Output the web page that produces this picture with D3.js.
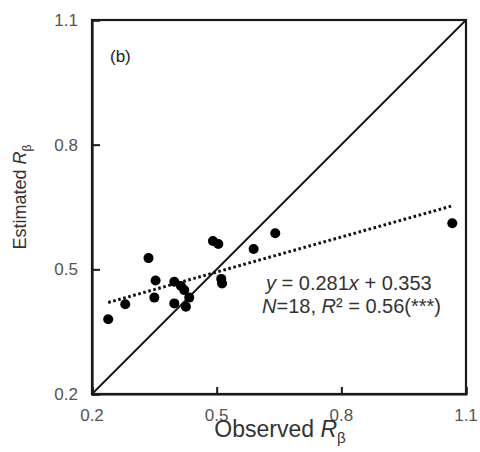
<!DOCTYPE html>
<html>
<head>
<meta charset="utf-8">
<script src="https://cdn.jsdelivr.net/npm/d3@7/dist/d3.min.js"></script>
<style>
  html, body { margin: 0; padding: 0; background: #fff; }
  svg { display: block; font-family: "Liberation Sans", Arial, sans-serif; }
</style>
</head>
<body>
<svg id="chart" width="480" height="452"></svg>
<script>
// ---- data ----
const observed  = [0.239, 0.280, 0.336, 0.353, 0.350, 0.398, 0.398, 0.414, 0.422,
                   0.434, 0.426, 0.491, 0.504, 0.511, 0.513, 0.589, 0.641, 1.067];
const estimated = [0.380, 0.416, 0.527, 0.473, 0.432, 0.470, 0.418, 0.460, 0.450,
                   0.432, 0.410, 0.568, 0.561, 0.477, 0.466, 0.549, 0.587, 0.611];
const tickValues = [0.2, 0.5, 0.8, 1.1];
const tickLabels = ["0.2", "0.5", "0.8", "1.1"];
const slope = 0.281, intercept = 0.353;
const panelLabel = "(b)";

// ---- layout ----
const svg = d3.select("#chart");
const L = 92, R = 466, T = 20, B = 394;
const x = d3.scaleLinear().domain([0.2, 1.1]).range([L, R]);
const y = d3.scaleLinear().domain([0.2, 1.1]).range([B, T]);
const axisColor = "#1a1a1a";
const labelColor = "#555";

// frame
svg.append("rect").attr("x", L).attr("y", T).attr("width", R - L).attr("height", B - T)
  .attr("fill", "none").attr("stroke", axisColor).attr("stroke-width", 2.2);

// axes with inward ticks
const xAxis = d3.axisBottom(x).tickValues(tickValues).tickSize(-7).tickFormat(() => "");
const yAxis = d3.axisLeft(y).tickValues(tickValues).tickSize(-8).tickFormat(() => "");
const gx = svg.append("g").attr("transform", `translate(0,${B})`).call(xAxis);
const gy = svg.append("g").attr("transform", `translate(${L},0)`).call(yAxis);
[gx, gy].forEach(g => {
  g.select(".domain").attr("stroke", axisColor).attr("stroke-width", 2.2);
  g.selectAll(".tick line").attr("stroke", axisColor).attr("stroke-width", 2);
});

// tick labels
svg.append("g").selectAll("text").data(tickValues).join("text")
  .attr("x", d => x(d)).attr("y", 421)
  .attr("text-anchor", "middle").attr("font-size", 17).attr("fill", labelColor)
  .text((d, i) => tickLabels[i]);
svg.append("g").selectAll("text").data(tickValues).join("text")
  .attr("x", 78).attr("y", d => y(d)).attr("dy", "0.35em")
  .attr("text-anchor", "end").attr("font-size", 17).attr("fill", labelColor)
  .text((d, i) => tickLabels[i]);

// 1:1 line
svg.append("line")
  .attr("x1", x(0.2)).attr("y1", y(0.2)).attr("x2", x(1.1)).attr("y2", y(1.1))
  .attr("stroke", axisColor).attr("stroke-width", 2);

// regression line (dotted)
const xmin = d3.min(observed), xmax = d3.max(observed);
svg.append("line")
  .attr("x1", x(xmin)).attr("y1", y(slope * xmin + intercept))
  .attr("x2", x(xmax)).attr("y2", y(slope * xmax + intercept))
  .attr("stroke", "#111").attr("stroke-width", 3).attr("stroke-dasharray", "2.6,2.6");

// points
svg.append("g").selectAll("circle").data(observed).join("circle")
  .attr("cx", d => x(d)).attr("cy", (d, i) => y(estimated[i]))
  .attr("r", 5).attr("fill", "#000");

// panel label
svg.append("text").attr("x", 110).attr("y", 62).attr("font-size", 17).attr("fill", "#222")
  .text(panelLabel);

// equation text
const eq1 = svg.append("text").attr("x", 266).attr("y", 290).attr("font-size", 20).attr("fill", "#333");
eq1.append("tspan").attr("font-style", "italic").text("y");
eq1.append("tspan").text(" = " + slope + "");
eq1.append("tspan").attr("font-style", "italic").text("x");
eq1.append("tspan").text(" + " + intercept);

const eq2 = svg.append("text").attr("x", 262).attr("y", 313).attr("font-size", 20).attr("fill", "#333");
eq2.append("tspan").attr("font-style", "italic").text("N");
eq2.append("tspan").text("=" + observed.length + ", ");
eq2.append("tspan").attr("font-style", "italic").text("R");
eq2.append("tspan").text("² = 0.56(***)");

// axis titles
const xt = svg.append("text").attr("x", 280).attr("y", 437).attr("text-anchor", "middle")
  .attr("font-size", 23).attr("fill", "#333");
xt.append("tspan").text("Observed ");
xt.append("tspan").attr("font-style", "italic").text("R");
xt.append("tspan").attr("font-size", 15).attr("dy", 6).text("β");

const yt = svg.append("text").attr("transform", "translate(26,197) rotate(-90)")
  .attr("text-anchor", "middle").attr("font-size", 18).attr("fill", "#333");
yt.append("tspan").text("Estimated ");
yt.append("tspan").attr("font-style", "italic").text("R");
yt.append("tspan").attr("font-size", 12).attr("dy", 5).text("β");
</script>
</body>
</html>
